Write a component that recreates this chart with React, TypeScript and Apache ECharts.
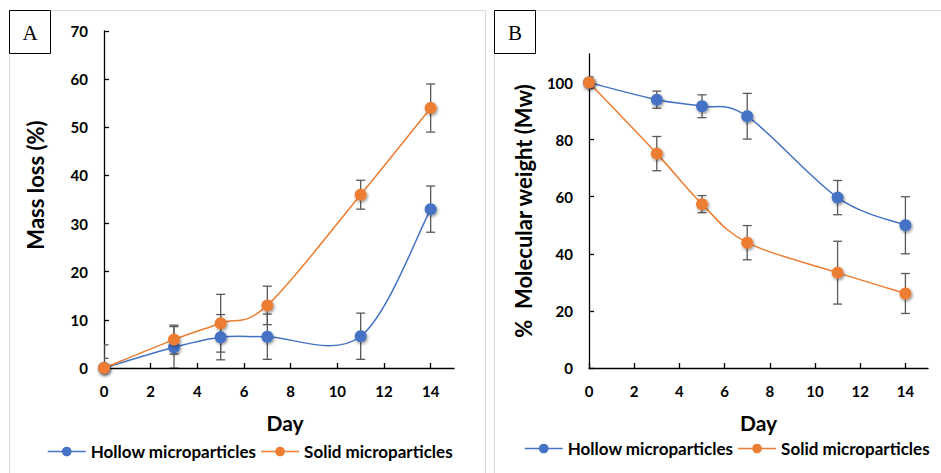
import React, { useEffect, useRef } from "react";
import * as echarts from "echarts";

const days = [0, 3, 5, 7, 11, 14];
const xTicks = [0, 2, 4, 6, 8, 10, 12, 14];
const massTicks = [0, 10, 20, 30, 40, 50, 60, 70];
const mwTicks = [0, 20, 40, 60, 80, 100];

const massHollow = [0, 4.3, 6.4, 6.5, 6.6, 33];
const massHollowErr = [4.8, 4.3, 4.7, 4.7, 4.8, 4.8];
const massSolid = [0, 5.9, 9.3, 13, 36, 54];
const massSolidErr = [2, 3, 6, 4, 3, 5];

const mwHollow = [100, 94, 91.7, 88.2, 59.7, 50];
const mwHollowErr = [2, 3, 4, 8, 6, 10];
const mwSolid = [100, 75.1, 57.4, 43.9, 33.4, 26.1];
const mwSolidErr = [1, 6, 3, 6, 11, 7];

const seriesNames = ["Hollow microparticles", "Solid microparticles"];
const BLUE = "#4472C4";
const ORANGE = "#ED7D31";
const FONT = "Lato, 'Open Sans', sans-serif";

const pts = (vals: number[]) => days.map((d, i) => [d, vals[i]]);
const errs = (vals: number[], e: number[]) =>
  days.map((d, i) => [d, vals[i] - e[i], vals[i] + e[i]]);

const errRender = (params: any, api: any) => {
  const x = api.value(0);
  const top = api.coord([x, api.value(2)]);
  const bot = api.coord([x, api.value(1)]);
  const hw = 4.5;
  const style = { stroke: "#595959", lineWidth: 1.3 };
  return {
    type: "group",
    children: [
      { type: "line", shape: { x1: top[0], y1: top[1], x2: bot[0], y2: bot[1] }, style },
      { type: "line", shape: { x1: top[0] - hw, y1: top[1], x2: top[0] + hw, y2: top[1] }, style },
      { type: "line", shape: { x1: bot[0] - hw, y1: bot[1], x2: bot[0] + hw, y2: bot[1] }, style },
    ],
  };
};

// Excel-like smoothed line: one cubic Bezier per segment, drawn through the axis scales
const curveSeries = (vals: number[], color: string, idx: number) => ({
  type: "custom",
  xAxisIndex: idx,
  yAxisIndex: idx,
  data: pts(vals),
  encode: { x: 0, y: 1 },
  clip: true,
  z: 2,
  silent: true,
  renderItem: (params: any, api: any) => {
    const i = params.dataIndex;
    const n = days.length;
    if (i >= n - 1) return { type: "group", children: [] };
    const P = (k: number) => {
      const j = Math.max(0, Math.min(n - 1, k));
      return api.coord([days[j], vals[j]]);
    };
    const p0 = P(i - 1), p1 = P(i), p2 = P(i + 1), p3 = P(i + 2);
    return {
      type: "bezierCurve",
      shape: {
        x1: p1[0],
        y1: p1[1],
        cpx1: p1[0] + (p2[0] - p0[0]) / 6,
        cpy1: p1[1] + (p2[1] - p0[1]) / 6,
        cpx2: p2[0] - (p3[0] - p1[0]) / 6,
        cpy2: p2[1] - (p3[1] - p1[1]) / 6,
        x2: p2[0],
        y2: p2[1],
      },
      style: { stroke: color, lineWidth: 1.5, fill: "none" },
    };
  },
});

const lineSeries = (name: string, color: string, vals: number[], idx: number) => ({
  type: "line",
  name,
  xAxisIndex: idx,
  yAxisIndex: idx,
  data: pts(vals),
  symbol: "circle",
  symbolSize: 12,
  z: 3,
  lineStyle: { color, width: 1.5, opacity: 0 },
  itemStyle: {
    color,
    shadowBlur: 3,
    shadowColor: "rgba(0,0,0,0.45)",
    shadowOffsetX: 1,
    shadowOffsetY: 1.5,
  },
});

const errSeries = (data: number[][], idx: number) => ({
  type: "custom",
  xAxisIndex: idx,
  yAxisIndex: idx,
  data,
  encode: { x: 0, y: [1, 2] },
  renderItem: errRender,
  clip: true,
  z: 2,
  silent: true,
});

const axisText = { fontFamily: FONT, fontWeight: "bold", fontSize: 15, color: "#000" };
const nameText = { fontFamily: FONT, fontWeight: "bold", fontSize: 22, color: "#000" };

const xAxisCfg = (idx: number, padLeft: number) => ({
  type: "value",
  gridIndex: idx,
  min: 0,
  max: 15,
  interval: 1,
  name: "Day",
  nameLocation: "middle",
  nameGap: 44,
  nameTextStyle: { ...nameText, fontSize: 21, padding: [0, 0, 0, padLeft] },
  axisLine: { show: true, onZero: false, lineStyle: { color: "#000", width: 1.3 } },
  axisTick: { show: true, inside: true, length: 5, customValues: xTicks, lineStyle: { color: "#000", width: 1.3 } },
  axisLabel: { ...axisText, margin: 15, customValues: xTicks },
  splitLine: { show: false },
});

const yAxisCfg = (idx: number, max: number, ticks: number[], name: string, gap: number, pad: number) => ({
  type: "value",
  gridIndex: idx,
  min: 0,
  max,
  interval: ticks[1] - ticks[0],
  name,
  nameLocation: "middle",
  nameGap: gap,
  nameTextStyle: { ...nameText, padding: [0, 0, 0, pad] },
  axisLine: { show: true, onZero: false, lineStyle: { color: "#000", width: 1.3 } },
  axisTick: { show: true, inside: true, length: 5, customValues: ticks, lineStyle: { color: "#000", width: 1.3 } },
  axisLabel: { ...axisText, margin: 16, customValues: ticks },
  splitLine: { show: false },
});

const legendCfg = (left: number, top: number) => ({
  left,
  top,
  width: 440,
  orient: "horizontal",
  data: seriesNames,
  itemWidth: 38,
  itemHeight: 12,
  itemGap: 4,
  lineStyle: { opacity: 1, width: 1.5 },
  itemStyle: { shadowBlur: 0, shadowOffsetX: 0, shadowOffsetY: 0 },
  textStyle: { fontFamily: FONT, fontWeight: "bold", fontSize: 17, color: "#000" },
  selectedMode: false,
});

export default function App() {
  const ref = useRef<HTMLDivElement>(null);
  useEffect(() => {
    if (!ref.current) return;
    const chart = echarts.init(ref.current, undefined, { renderer: "svg" });
    chart.setOption({
      animation: false,
      backgroundColor: "#fff",
      grid: [
        { left: 104, top: 31, right: 487, bottom: 105 },
        { left: 589, top: 54, right: 13, bottom: 105 },
      ],
      xAxis: [xAxisCfg(0, 12), xAxisCfg(1, 0)],
      yAxis: [
        yAxisCfg(0, 70, massTicks, "Mass loss (%)", 58, 29),
        yAxisCfg(1, 110, mwTicks, "%  Molecular weight (Mw)", 55, 0),
      ],
      legend: [legendCfg(42, 438), legendCfg(519, 435)],
      graphic: [
        { type: "rect", shape: { x: 9.5, y: 10.5, width: 476, height: 480 }, style: { fill: "none", stroke: "#d9d9d9", lineWidth: 1 }, z: 0, silent: true },
        { type: "rect", shape: { x: 494.5, y: 10.5, width: 470, height: 480 }, style: { fill: "none", stroke: "#d9d9d9", lineWidth: 1 }, z: 0, silent: true },
        { type: "rect", shape: { x: 9.5, y: 10.5, width: 41, height: 43 }, style: { fill: "#fff", stroke: "#000", lineWidth: 1 }, z: 10, silent: true },
        { type: "rect", shape: { x: 494.5, y: 10.5, width: 41, height: 43 }, style: { fill: "#fff", stroke: "#000", lineWidth: 1 }, z: 10, silent: true },
        { type: "text", x: 30, y: 33, z: 11, style: { text: "A", fontFamily: "'Liberation Serif', serif", fontSize: 21, fill: "#000", align: "center", verticalAlign: "middle" } },
        { type: "text", x: 515, y: 33, z: 11, style: { text: "B", fontFamily: "'Liberation Serif', serif", fontSize: 21, fill: "#000", align: "center", verticalAlign: "middle" } },
      ],
      series: [
        errSeries(errs(massHollow, massHollowErr), 0),
        errSeries(errs(massSolid, massSolidErr), 0),
        curveSeries(massHollow, BLUE, 0),
        curveSeries(massSolid, ORANGE, 0),
        lineSeries(seriesNames[0], BLUE, massHollow, 0),
        lineSeries(seriesNames[1], ORANGE, massSolid, 0),
        errSeries(errs(mwHollow, mwHollowErr), 1),
        errSeries(errs(mwSolid, mwSolidErr), 1),
        curveSeries(mwHollow, BLUE, 1),
        curveSeries(mwSolid, ORANGE, 1),
        lineSeries(seriesNames[0], BLUE, mwHollow, 1),
        lineSeries(seriesNames[1], ORANGE, mwSolid, 1),
      ],
    });
    return () => chart.dispose();
  }, []);
  return (
    <div
      ref={ref}
      style={{ position: "fixed", left: 0, top: 0, width: 941, height: 473 }}
    />
  );
}
